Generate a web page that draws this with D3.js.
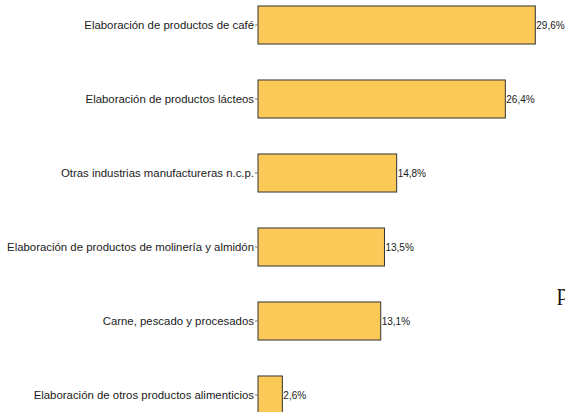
<!DOCTYPE html>
<html>
<head>
<meta charset="utf-8">
<script src="https://cdn.jsdelivr.net/npm/d3@7"></script>
<style>
  html, body { margin: 0; padding: 0; background: #fff; }
  svg { display: block; }
</style>
</head>
<body>
<svg id="chart" width="565" height="412"></svg>
<script>
const categories = [
  "Elaboración de productos de café",
  "Elaboración de productos lácteos",
  "Otras industrias manufactureras n.c.p.",
  "Elaboración de productos de molinería y almidón",
  "Carne, pescado y procesados",
  "Elaboración de otros productos alimenticios"
];
const values = [29.6, 26.4, 14.8, 13.5, 13.1, 2.6];
const valueLabels = ["29,6%", "26,4%", "14,8%", "13,5%", "13,1%", "2,6%"];

const svg = d3.select("#chart");
const x0 = 258;

const x = d3.scaleLinear().domain([0, 29.6]).range([x0, 535.3]);
const y = d3.scaleBand().domain(categories).range([-12, 432])
  .paddingInner(0.486).paddingOuter(0.243);

const data = categories.map((c, i) => ({ c, v: values[i], l: valueLabels[i] }));

svg.selectAll("rect.bar").data(data).enter().append("rect")
  .attr("class", "bar")
  .attr("x", x(0))
  .attr("y", d => y(d.c))
  .attr("width", d => x(d.v) - x(0))
  .attr("height", y.bandwidth())
  .attr("fill", "#FBC957")
  .attr("stroke", "#333333")
  .attr("stroke-width", 1);

const axis = d3.axisLeft(y).tickSize(3).tickPadding(1);
const g = svg.append("g").attr("transform", `translate(${x0},0)`).call(axis);
g.select(".domain").remove();
g.selectAll(".tick line").attr("stroke", "#777");
g.selectAll(".tick text")
  .attr("font-family", "Liberation Sans, Arial, sans-serif")
  .attr("font-size", 11.4)
  .attr("fill", "#1a1a1a");

svg.selectAll("text.val").data(data).enter().append("text")
  .attr("class", "val")
  .attr("x", d => x(d.v) + 1)
  .attr("y", d => y(d.c) + y.bandwidth() / 2)
  .attr("dy", "0.35em")
  .attr("font-family", "Liberation Sans, Arial, sans-serif")
  .attr("font-size", 10)
  .attr("fill", "#1a1a1a")
  .text(d => d.l);

svg.append("text")
  .attr("x", 557)
  .attr("y", 300)
  .attr("font-family", "Liberation Serif, Times New Roman, serif")
  .attr("font-size", 23)
  .attr("fill", "#111")
  .text("p");
</script>
</body>
</html>
